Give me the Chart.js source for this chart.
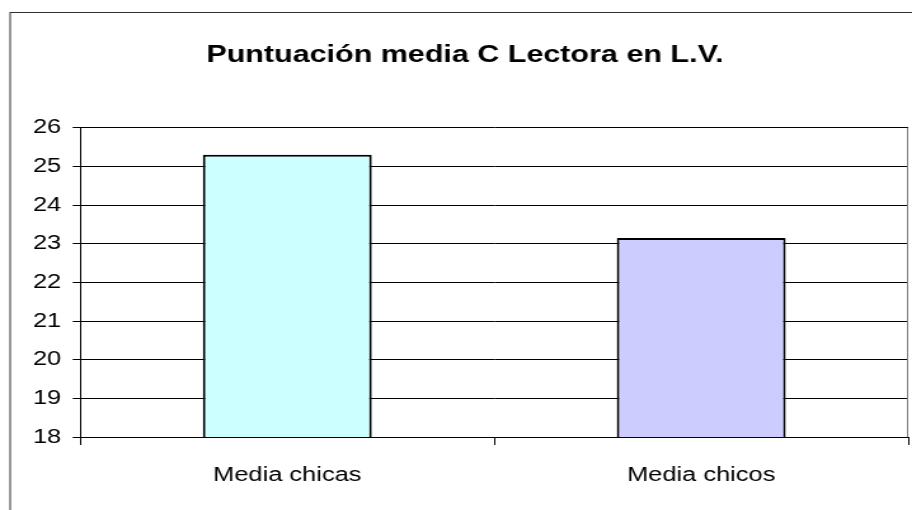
<!DOCTYPE html>
<html>
<head>
<meta charset="utf-8">
<title>Puntuación media C Lectora en L.V.</title>
<script src="https://cdn.jsdelivr.net/npm/chart.js@4"></script>
<style>
  html, body { margin: 0; padding: 0; background: #fff; overflow: hidden; }
  /* the original picture is stretched sideways, so the chart is drawn narrow and widened */
  #wrap { width: 718px; height: 510px; transform: scaleX(1.2702); transform-origin: 0 0; }
  #chart { display: block; }
</style>
</head>
<body>
<div id="wrap"><canvas id="chart" width="718" height="510"></canvas></div>
<script>
// datos del gráfico
const chartTitle = 'Puntuación media C Lectora en L.V.';
const categories = ['Media chicas', 'Media chicos'];
const values = [25.3, 23.15];
const barColors = ['#CCFFFF', '#CCCCFF'];
const yMin = 18;
const yMax = 26;
const yStep = 1;

const fontFamily = '"Liberation Sans", Arial, sans-serif';

// marco exterior del gráfico y borde derecho del área de trazado
const chartFrame = {
    id: 'chartFrame',
    beforeDraw(chart) {
        const ctx = chart.ctx;
        ctx.save();
        ctx.fillStyle = '#fff';
        ctx.fillRect(0, 0, chart.width, chart.height);
        ctx.strokeStyle = '#303030';
        ctx.lineWidth = 1;
        ctx.strokeRect(8, 12.5, chart.width + 20, chart.height + 20);
        ctx.restore();
    },
    afterDraw(chart) {
        const area = chart.chartArea;
        const ctx = chart.ctx;
        ctx.save();
        ctx.strokeStyle = '#808080';
        ctx.lineWidth = 1;
        ctx.beginPath();
        ctx.moveTo(area.right - 0.5, area.top);
        ctx.lineTo(area.right - 0.5, area.bottom);
        ctx.stroke();
        ctx.restore();
    }
};

const ctx = document.getElementById('chart').getContext('2d');
new Chart(ctx, {
    type: 'bar',
    data: {
        labels: categories,
        datasets: [{
            data: values,
            backgroundColor: barColors,
            borderColor: '#000',
            borderWidth: 2,
            barPercentage: 0.408,
            categoryPercentage: 1
        }]
    },
    options: {
        responsive: false,
        devicePixelRatio: 1,
        animation: false,
        layout: {
            padding: { left: 17, right: 3, top: 12, bottom: 5 }
        },
        plugins: {
            legend: { display: false },
            tooltip: { enabled: false },
            title: {
                display: true,
                text: chartTitle,
                color: '#000',
                font: { family: fontFamily, size: 24, weight: 'bold' },
                padding: { top: 29, bottom: 58 }
            }
        },
        scales: {
            x: {
                offset: true,
                grid: {
                    offset: true,
                    drawOnChartArea: false,
                    drawTicks: true,
                    tickLength: 8,
                    color: '#000'
                },
                border: { color: '#000', width: 1 },
                ticks: {
                    color: '#000',
                    font: { family: fontFamily, size: 20 },
                    padding: 18
                }
            },
            y: {
                min: yMin,
                max: yMax,
                grid: {
                    color: '#000',
                    lineWidth: 1,
                    drawTicks: true,
                    tickLength: 6
                },
                border: { color: '#000', width: 1 },
                ticks: {
                    stepSize: yStep,
                    color: '#000',
                    font: { family: fontFamily, size: 20 },
                    padding: 9
                }
            }
        }
    },
    plugins: [chartFrame]
});
</script>
</body>
</html>
